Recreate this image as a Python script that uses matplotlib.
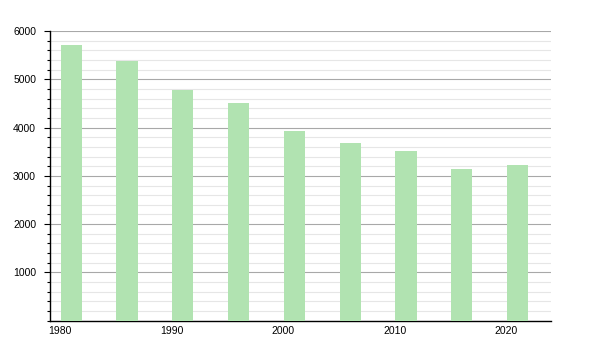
import matplotlib
matplotlib.use("Agg")
import matplotlib.pyplot as plt
from matplotlib.ticker import MultipleLocator

years = [1981, 1986, 1991, 1996, 2001, 2006, 2011, 2016, 2021]
population = [5710, 5378, 4777, 4502, 3928, 3679, 3514, 3141, 3224]
xticks = [1980, 1990, 2000, 2010, 2020]
yticks = [1000, 2000, 3000, 4000, 5000, 6000]

plt.rcParams['font.family'] = ['Liberation Sans', 'DejaVu Sans']

fig = plt.figure(figsize=(6, 3.5), dpi=100)
ax = fig.add_axes([0.0833, 0.084, 0.835, 0.827])

ax.bar(years, population, width=1.9, color='#b1e3b1', zorder=3)

ax.set_xlim(1979.1, 2024.0)
ax.set_ylim(0, 6000)
ax.set_xticks(xticks)
ax.set_yticks(yticks)
ax.yaxis.set_minor_locator(MultipleLocator(200))

ax.grid(axis='y', which='major', color='#a8a8a8', linewidth=0.8, zorder=1)
ax.grid(axis='y', which='minor', color='#e6e6e6', linewidth=0.8, zorder=1)

for s in ['top', 'right']:
    ax.spines[s].set_visible(False)
ax.spines['left'].set_linewidth(1.0)
ax.spines['bottom'].set_linewidth(1.0)

ax.tick_params(axis='x', length=0, pad=4, labelsize=7.5)
ax.tick_params(axis='y', which='major', length=4, width=0.8, pad=6, labelsize=7.5)
ax.tick_params(axis='y', which='minor', length=2.5, width=0.8)

fig.savefig("out.png", dpi=100)
